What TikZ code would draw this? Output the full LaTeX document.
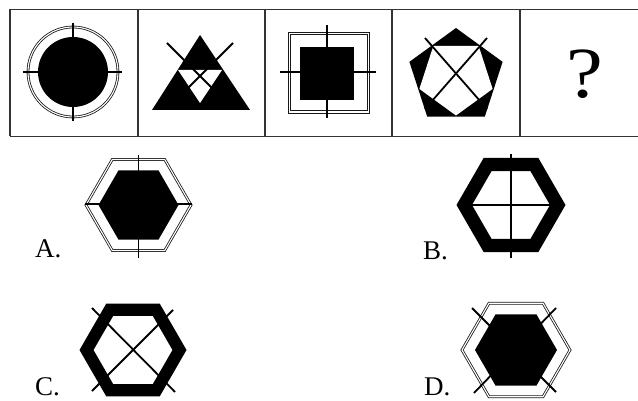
\documentclass[tikz,border=0pt]{standalone}
\usepackage{fontspec}
\setmainfont{Liberation Serif}
\begin{document}
\begin{tikzpicture}[x=1pt,y=-1pt,
  frame/.style={draw=black!80,line width=1.4pt},
  dbl/.style={draw=black!90,double=white,double distance=1.1pt,line width=0.8pt},
  thin/.style={draw=black!90,line width=0.8pt},
  stroke/.style={draw=black,line width=1.8pt},
  lab/.style={font=\fontsize{27}{30}\selectfont,anchor=base west,inner sep=0pt}]
\useasboundingbox (0,0) rectangle (638,401);
\fill[white] (0,0) rectangle (638,401);
% frame
\begin{scope}
\clip (0,0) rectangle (638,401);
\draw[frame] (10,9.5) -- (650,9.5) (10,136.5) -- (650,136.5);
\foreach \x in {10,138,265,392,520} \draw[frame] (\x,9.5) -- (\x,136.5);
\end{scope}
% cell 1: circle
\fill (73,72) circle (35);
\draw[dbl] (73,72) circle (45);
\draw[stroke] (23,72) -- (122,72);
\draw[stroke] (73,23) -- (73,121);
% cell 2: triangle
\fill (200,35) -- (250,110) -- (152,110) -- cycle;
\fill[white] (178,70) -- (222,70) -- (200,103) -- cycle;
\draw[stroke] (167,43) -- (230,106);
\draw[stroke] (233,43) -- (170,106);
% cell 3: square
\fill (300,47) -- (354,47) -- (354,100) -- (300,100) -- cycle;
\draw[thin] (287.9,32.4) -- (369.1,32.4) -- (369.1,113.1) -- (287.9,113.1) -- cycle;
\draw[thin] (290.1,34.6) -- (366.9,34.6) -- (366.9,110.9) -- (290.1,110.9) -- cycle;
\draw[stroke] (280,72) -- (376,72);
\draw[stroke] (327,25) -- (327,118);
% cell 4: pentagon
\fill (456,77) +(-90:49) -- +(-18:49) -- +(54:49) -- +(126:49) -- +(198:49) -- cycle;
\fill[white] (456,77) +(-54:38.5) -- +(18:38.5) -- +(90:38.5) -- +(162:38.5) -- +(234:38.5) -- cycle;
\draw[stroke] (425,38) -- (487,109);
\draw[stroke] (487,38) -- (425,109);
% cell 5
\node[font=\fontsize{72}{80}\selectfont,anchor=base,inner sep=0pt,xscale=1.15] (q) at (585,98) {?};
% option A
\fill (138.5,205) +(0:40) -- +(60:40) -- +(120:40) -- +(180:40) -- +(240:40) -- +(300:40) -- cycle;
\draw[dbl] (138.5,205) +(0:52.5) -- +(60:52.5) -- +(120:52.5) -- +(180:52.5) -- +(240:52.5) -- +(300:52.5) -- cycle;
\draw[stroke] (138.5,155) -- (138.5,258);
\draw[stroke] (85,204) -- (192,204);
\node[lab] (la) at (35,258) {A.};
% option B
\fill[even odd rule] (511,205) +(0:54.5) -- +(60:54.5) -- +(120:54.5) -- +(180:54.5) -- +(240:54.5) -- +(300:54.5) -- cycle
  (511,205) +(0:39) -- +(60:39) -- +(120:39) -- +(180:39) -- +(240:39) -- +(300:39) -- cycle;
\draw[stroke] (511,154) -- (511,258);
\draw[stroke] (472,205) -- (550,205);
\node[lab] (lb) at (423,259) {B.};
% option C
\fill[even odd rule] (133,350) +(0:53.5) -- +(60:53.5) -- +(120:53.5) -- +(180:53.5) -- +(240:53.5) -- +(300:53.5) -- cycle
  (133,350) +(0:39.5) -- +(60:39.5) -- +(120:39.5) -- +(180:39.5) -- +(240:39.5) -- +(300:39.5) -- cycle;
\draw[stroke] (92,308) -- (175,392);
\draw[stroke] (173,310) -- (92,391);
\node[lab] (lc) at (35,395) {C.};
% option D
\fill (516,350) +(0:41) -- +(60:41) -- +(120:41) -- +(180:41) -- +(240:41) -- +(300:41) -- cycle;
\draw[dbl] (516,350) +(0:54) -- +(60:54) -- +(120:54) -- +(180:54) -- +(240:54) -- +(300:54) -- cycle;
\draw[stroke] (472,308) -- (556,392);
\draw[stroke] (556,308) -- (474,393);
\node[lab] (ld) at (424,395) {D.};
\end{tikzpicture}
\end{document}
